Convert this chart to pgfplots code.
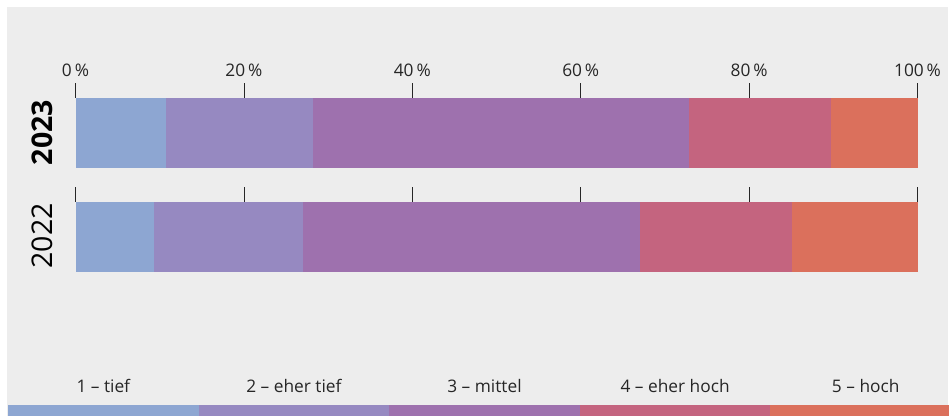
\documentclass[border=0pt]{standalone}
\usepackage{pgfplots}
\usepackage{pgfplotstable}
\pgfplotsset{compat=1.18}
\usepackage{fontspec}
\setmainfont{Open Sans}
\definecolor{bg}{HTML}{EDEDED}
\definecolor{c1}{HTML}{8DA6D2}
\definecolor{c2}{HTML}{9689C1}
\definecolor{c3}{HTML}{9E71AE}
\definecolor{c4}{HTML}{C4647F}
\definecolor{c5}{HTML}{DB705C}

\pgfplotstableread{
y v1 v2 v3 v4 v5
0 10.7 17.5 44.7 16.8 10.3
}\dataA
\pgfplotstableread{
y v1 v2 v3 v4 v5
0 9.3 17.7 40.0 18.1 14.9
}\dataB

\pgfplotsset{
  barsaxis/.style={
    scale only axis, width=842bp, height=70bp,
    anchor=south west,
    xbar stacked, bar width=70bp,
    xmin=0, xmax=100, ymin=-0.5, ymax=0.5,
    axis line style={draw=none},
    ytick=\empty,
    xtick={0,20,40,60,80,100},
    xtick pos=right, xticklabel pos=right,
    tick align=outside,
    major tick length=14.5bp,
    every tick/.style={black!85, line width=0.8bp},
    /pgf/number format/assume math mode=true,
    xticklabel style={font=\fontsize{17.3bp}{20bp}\selectfont, text=black!85, yshift=3.5bp},
    xticklabel={\pgfmathprintnumber{\tick}\,\%},
    clip=false,
  },
}

\begin{document}
\begin{tikzpicture}[x=1bp,y=1bp]
\useasboundingbox (0,0) rectangle (949,416);
\fill[bg] (7,0) rectangle (948,409);

\begin{axis}[barsaxis, at={(75.5bp,248.3bp)}]
\addplot[fill=c1, draw=none] table[x=v1, y=y] {\dataA};
\addplot[fill=c2, draw=none] table[x=v2, y=y] {\dataA};
\addplot[fill=c3, draw=none] table[x=v3, y=y] {\dataA};
\addplot[fill=c4, draw=none] table[x=v4, y=y] {\dataA};
\addplot[fill=c5, draw=none] table[x=v5, y=y] {\dataA};
\end{axis}

\begin{axis}[barsaxis, at={(75.5bp,144.3bp)}, xticklabels={}]
\addplot[fill=c1, draw=none] table[x=v1, y=y] {\dataB};
\addplot[fill=c2, draw=none] table[x=v2, y=y] {\dataB};
\addplot[fill=c3, draw=none] table[x=v3, y=y] {\dataB};
\addplot[fill=c4, draw=none] table[x=v4, y=y] {\dataB};
\addplot[fill=c5, draw=none] table[x=v5, y=y] {\dataB};
\end{axis}

\node[rotate=90, font=\fontsize{28.5bp}{32bp}\selectfont\bfseries, text=black] at (42,283.3) {2023};
\node[rotate=90, font=\fontsize{28.5bp}{32bp}\selectfont, text=black] at (42,180) {2022};

% legend
\foreach \c [count=\i from 0] in {c1,c2,c3,c4,c5}{
  \fill[\c] ({8+190.6*\i},0) rectangle ({8+190.6*(\i+1)},11);
}
\foreach \t [count=\i from 0] in {1 – tief, 2 – eher tief, 3 – mittel, 4 – eher hoch, 5 – hoch}{
  \node[anchor=base, font=\fontsize{17.3bp}{20bp}\selectfont, text=black!85] at ({8+190.6*\i+95.3},23.5) {\t};
}
\end{tikzpicture}
\end{document}
